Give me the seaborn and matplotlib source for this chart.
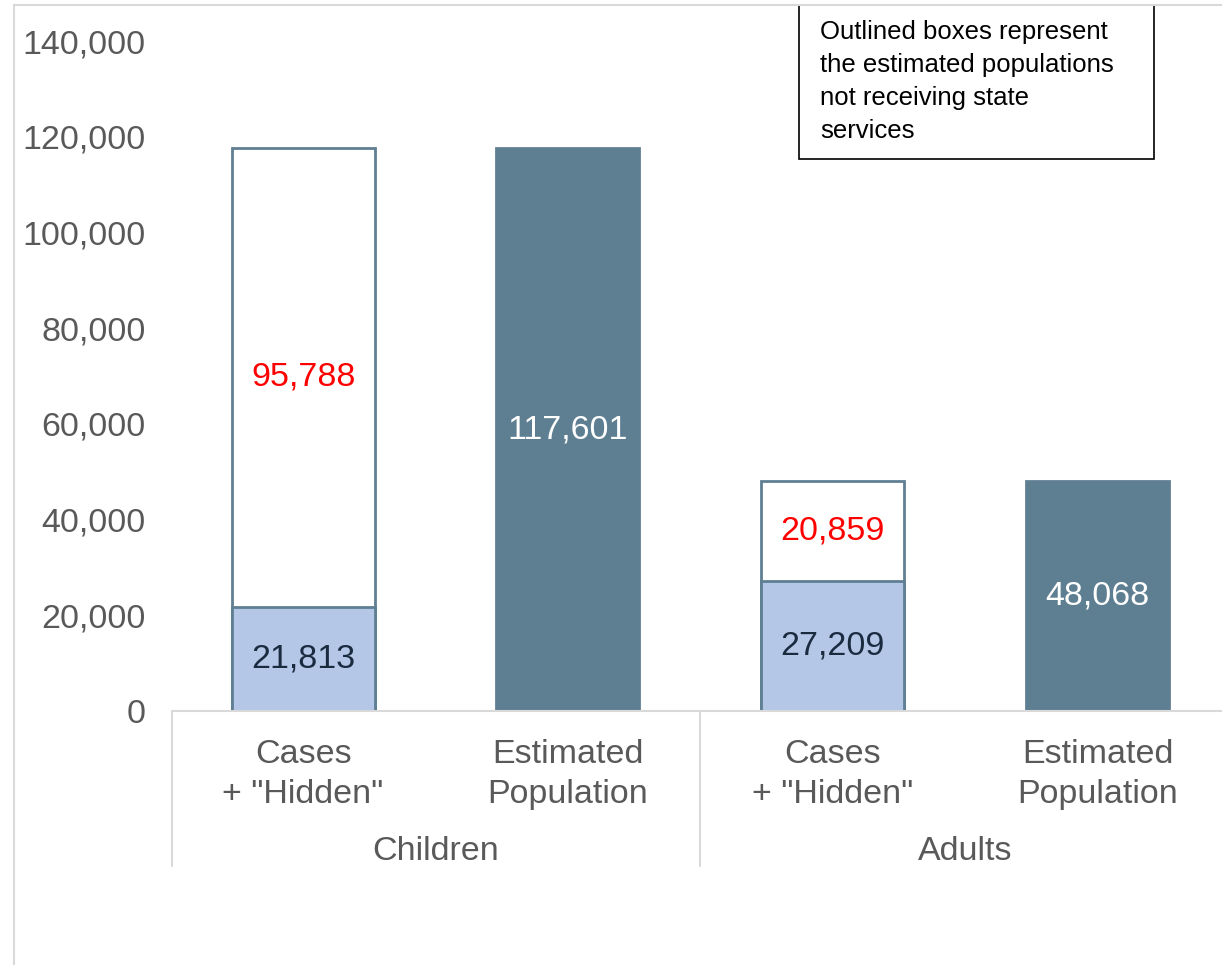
import pandas as pd
import matplotlib.pyplot as plt
import matplotlib.transforms as mtransforms
from matplotlib.lines import Line2D
from matplotlib.patches import Rectangle
import seaborn as sns

# Chart values
bar_keys = ['child_cases', 'child_pop', 'adult_cases', 'adult_pop']
bar_labels = ['Cases\n+ "Hidden"', 'Estimated\nPopulation', 'Cases\n+ "Hidden"', 'Estimated\nPopulation']
groups = ['Children', 'Adults']
cases = [21813, 27209]          # receiving state services
hidden = [95788, 20859]         # not receiving services
population = [117601, 48068]

totals = [cases[0] + hidden[0], population[0], cases[1] + hidden[1], population[1]]

sns.set_theme(style='white')
plt.rcParams['font.family'] = ['Liberation Sans', 'DejaVu Sans']

edge_col = '#5f7f92'
dark_col = '#5e7f92'
light_col = '#b4c7e7'

fig = plt.figure(figsize=(12.22, 9.65), dpi=100)
ax = fig.add_axes([172 / 1222, 254 / 965, 1050 / 1222, 670 / 965])

# outer boxes: full totals (white outline for cases + hidden, solid for population)
df_tot = pd.DataFrame({'key': bar_keys, 'value': totals})
sns.barplot(data=df_tot, x='key', y='value', hue='key', order=bar_keys,
            palette={'child_cases': 'white', 'child_pop': dark_col,
                     'adult_cases': 'white', 'adult_pop': dark_col},
            saturation=1, edgecolor=edge_col, linewidth=2, width=0.54,
            legend=False, ax=ax)

# cases segment at the bottom of the outlined boxes
df_cases = pd.DataFrame({'key': ['child_cases', 'adult_cases'], 'value': cases})
sns.barplot(data=df_cases, x='key', y='value', hue='key', order=bar_keys,
            palette={'child_cases': light_col, 'adult_cases': light_col},
            saturation=1, edgecolor=edge_col, linewidth=2, width=0.54,
            legend=False, ax=ax)

ax.set_xlim(-0.495, 3.47)
ax.set_ylim(0, 140000)
ax.set_yticks(range(0, 140001, 20000))
ax.set_yticklabels([f'{v:,}' for v in range(0, 140001, 20000)])
ax.set_xticks(range(4))
ax.set_xticklabels(bar_labels, linespacing=1.4)
ax.tick_params(axis='both', length=0, labelsize=24.5, colors='#595959')
ax.tick_params(axis='y', pad=19)
ax.tick_params(axis='x', pad=20)
ax.set_xlabel('')
ax.set_ylabel('')
for s in ['top', 'right', 'left']:
    ax.spines[s].set_visible(False)
ax.spines['bottom'].set_color('#d9d9d9')
ax.spines['bottom'].set_linewidth(1.5)

# data labels
lab_kw = dict(ha='center', va='center', fontsize=24.5)
for k, g in enumerate([0, 2]):
    ax.text(g, cases[k] / 2, f'{cases[k]:,}', color='#1a2b40', **lab_kw)
    ax.text(g, cases[k] + hidden[k] / 2, f'{hidden[k]:,}', color='#ff0000', **lab_kw)
    ax.text(g + 1, population[k] / 2, f'{population[k]:,}', color='white', **lab_kw)

# group labels and separators
trans = mtransforms.blended_transform_factory(ax.transData, ax.transAxes)
for gi, name in enumerate(groups):
    ax.text(gi * 2 + 0.5, -0.209, name, transform=trans, ha='center', va='center',
            fontsize=24.5, color='#595959')
for xs in [-0.495, 1.5, 3.5]:
    ax.plot([xs, xs], [0, -0.231], transform=trans, color='#d9d9d9', lw=1.5, clip_on=False)

# note box
fig.add_artist(Rectangle((799 / 1222, (965 - 159) / 965), 355 / 1222, 154 / 965,
                         transform=fig.transFigure, fill=False, edgecolor='black', lw=1.2))
fig.text(820 / 1222, (965 - 20) / 965,
         'Outlined boxes represent\nthe estimated populations\nnot receiving state\nservices',
         ha='left', va='top', fontsize=18.5, color='black', linespacing=1.47)

# chart area border (cropped)
fig.add_artist(Line2D([14 / 1222, 14 / 1222], [0, 960 / 965], transform=fig.transFigure,
                      color='#d9d9d9', lw=1.5))
fig.add_artist(Line2D([14 / 1222, 1], [960 / 965, 960 / 965], transform=fig.transFigure,
                      color='#d9d9d9', lw=1.5))

fig.savefig('out.png', dpi=100)
